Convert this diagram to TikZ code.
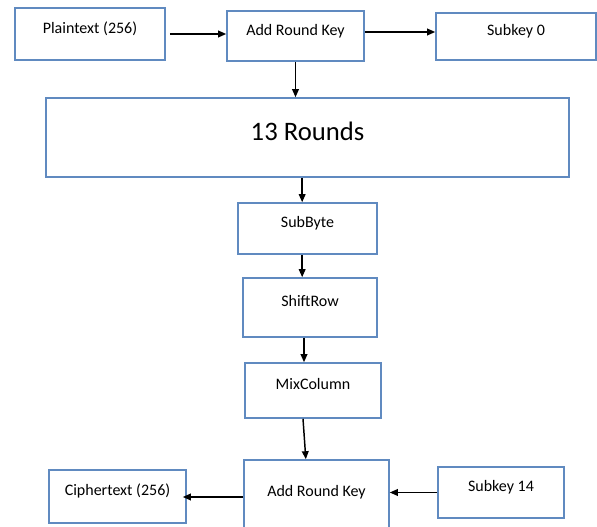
\documentclass[tikz,border=0pt]{standalone}
\usepackage{fontspec}
\setmainfont{Carlito}
\usetikzlibrary{arrows.meta}
\definecolor{bordo}{RGB}{96,138,192}
\tikzset{
  blocco/.style={draw=bordo, line width=1.2pt, fill=white, inner sep=0pt,
    font=\fontsize{12}{14}\selectfont, text height=9pt, text depth=10.3pt},
  freccia/.style={-{Triangle[length=6pt,width=5pt]}, line width=1.1pt, black}
}
\begin{document}
\begin{tikzpicture}[x=0.75pt, y=-0.75pt]
    \clip (0,0) rectangle (597,527);
    \fill[white] (0,0) rectangle (597,527);

    % Riga in alto
    \node[blocco, minimum width=112.5pt, minimum height=39pt] (plain) at (90,34) {Plaintext (256)};
    \node[blocco, minimum width=102.75pt, minimum height=37.5pt] (ark1) at (295.5,36) {Add Round Key};
    \node[blocco, minimum width=120pt, minimum height=35.25pt] (sk0) at (516,36.5) {Subkey 0};

    % Blocco dei round
    \node[blocco, minimum width=392.25pt, minimum height=59.25pt,
      font=\fontsize{20}{23}\selectfont, text height=14.5pt, text depth=10pt] (rounds) at (307.5,137.5) {13 Rounds};

    % Passi del round
    \node[blocco, minimum width=104.25pt, minimum height=38.25pt] (sub) at (307.5,228.5) {SubByte};
    \node[blocco, minimum width=100.5pt, minimum height=44.25pt] (shift) at (310,307.5) {ShiftRow};
    \node[blocco, minimum width=102pt, minimum height=41.25pt] (mix) at (313,390.5) {MixColumn};

    % Riga in basso
    \node[blocco, minimum width=108.75pt, minimum height=55.5pt] (ark2) at (316.5,497) {Add Round Key};
    \node[blocco, minimum width=102.75pt, minimum height=39.75pt] (cipher) at (117.5,496.5) {Ciphertext (256)};
    \node[blocco, minimum width=94.5pt, minimum height=38.25pt] (sk14) at (501,492.5) {Subkey 14\hspace{19.5pt}};

    % Frecce
    \draw[freccia] ([xshift=3pt]plain.east) -- (plain.east -| ark1.west);
    \draw[freccia] ([yshift=3pt]ark1.east) -- ([yshift=3pt]ark1.east -| sk0.west);
    \draw[freccia] (ark1.south) -- (ark1.south |- rounds.north);
    \draw[freccia] ([xshift=-4pt]sub.north |- rounds.south) -- ([xshift=-4pt]sub.north);
    \draw[freccia] ([xshift=-4pt]sub.south) -- ([xshift=-4pt]sub.south |- shift.north);
    \draw[freccia] ([xshift=-4.5pt]shift.south) -- ([xshift=-4.5pt]shift.south |- mix.north);
    \draw[freccia] ([xshift=-7.5pt]mix.south) -- ([xshift=-8pt]ark2.north);
    \draw[freccia] (ark2.west) -- ([xshift=-3pt]ark2.west -| cipher.east);
    \draw[freccia] (sk14.west) -- (sk14.west -| ark2.east);
\end{tikzpicture}
\end{document}
